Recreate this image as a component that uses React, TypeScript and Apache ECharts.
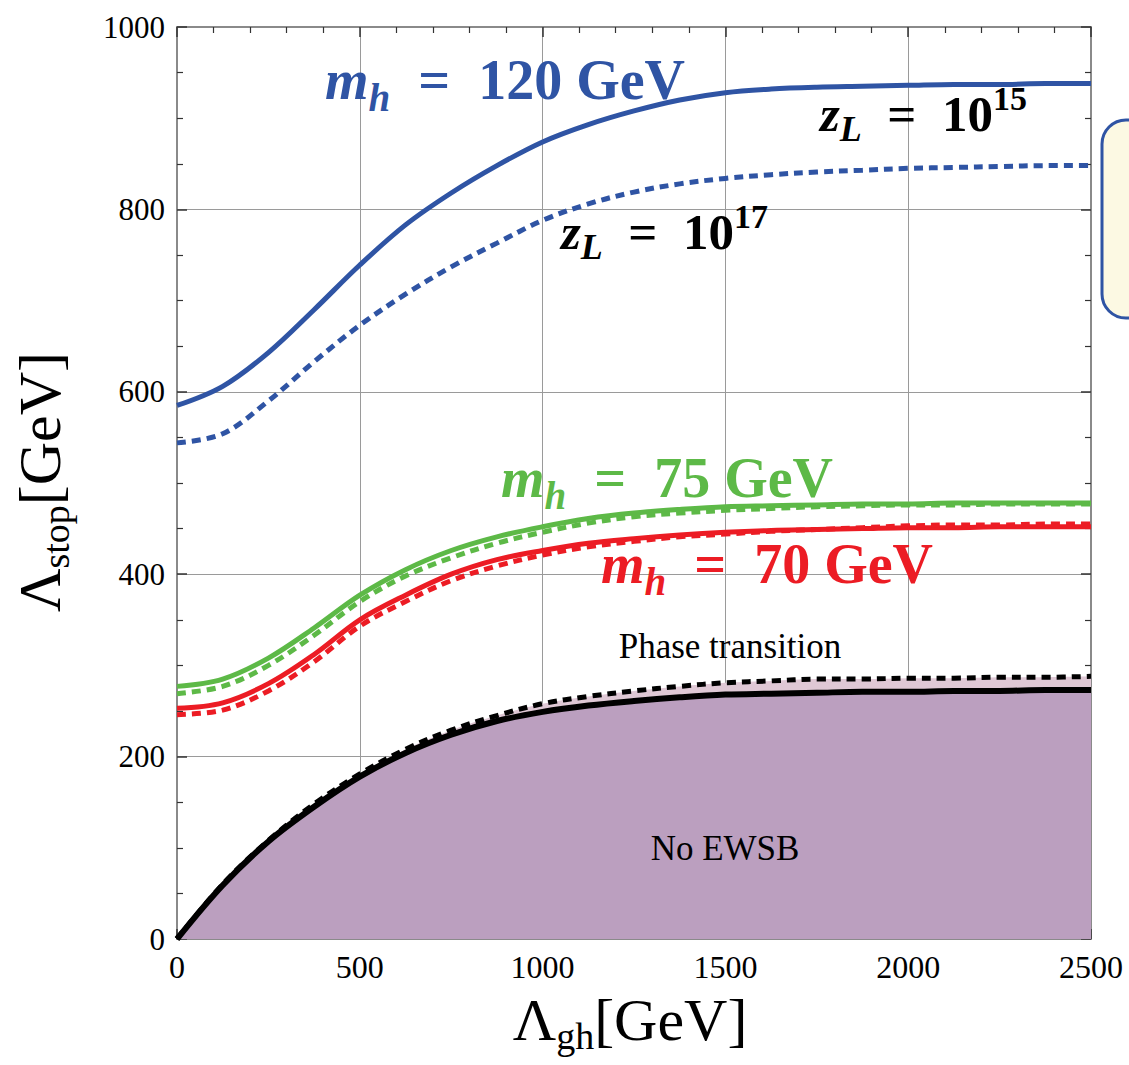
import React, { useEffect, useRef } from "react";
import * as echarts from "echarts";

// Λ_gh [GeV] sample points
const lambdaGh = [0, 125, 250, 375, 500, 625, 750, 875, 1000, 1125, 1250, 1375, 1500, 1625, 1750, 1875, 2000, 2125, 2250, 2375, 2500];

// Λ_stop [GeV] curves
const mh120z15 = [585, 606, 643, 690, 739, 783, 818, 848, 874, 893, 908, 920, 928, 932, 934, 935, 936, 937, 937, 938, 938];
const mh120z17 = [544, 554, 590, 633, 673, 707, 737, 763, 788, 806, 819, 828, 834, 838, 841, 843, 845, 846, 847, 848, 848];
const mh75z15 = [277, 285, 308, 341, 377, 405, 426, 441, 452, 461, 467, 471, 474, 475, 476, 477, 477, 478, 478, 478, 478];
const mh75z17 = [269, 277, 300, 333, 370, 398, 418, 434, 446, 456, 463, 467, 470, 472, 474, 475, 476, 476, 477, 477, 477];
const mh70z15 = [253, 259, 280, 312, 350, 377, 400, 416, 426, 434, 439, 443, 446, 448, 449, 450, 451, 451, 452, 452, 452];
const mh70z17 = [246, 251, 272, 304, 343, 370, 393, 409, 421, 430, 436, 441, 444, 447, 449, 451, 453, 454, 454, 455, 455];
const ewsbZ15 = [0, 59, 107, 145, 178, 204, 224, 239, 249, 256, 261, 265, 268, 269, 270, 271, 271, 272, 272, 273, 273];
const ewsbZ17 = [0, 60, 108, 148, 181, 208, 229, 245, 258, 266, 272, 277, 281, 283, 285, 285, 286, 286, 287, 287, 288];

const xTicks = [0, 500, 1000, 1500, 2000, 2500];
const yTicks = [0, 200, 400, 600, 800, 1000];

const BLUE = "#2F54A4";
const GREEN = "#5DB947";
const RED = "#EC1C24";

const pts = (ys: number[]) => lambdaGh.map((x, i) => [x, ys[i]]);

const GRID = { left: 177, top: 27, width: 914, height: 912 };

function lineSeries(name: string, ys: number[], color: string, dashed: boolean, width = 5, extra: any = {}) {
  return {
    name,
    type: "line",
    data: pts(ys),
    showSymbol: false,
    smooth: 0.35,
    lineStyle: { color, width, type: dashed ? [9, 6] : "solid", cap: "butt" },
    z: 3,
    ...extra,
  };
}

const MATH_FONT = "Liberation Serif";

const mathRich = (size: number, color: string) => ({
  m: { fontFamily: MATH_FONT, fontStyle: "italic", fontWeight: "bold", fontSize: size, lineHeight: Math.round(size * 1.3), verticalAlign: "middle", fill: color },
  s: { fontFamily: MATH_FONT, fontStyle: "italic", fontWeight: "bold", fontSize: Math.round(size * 0.7), lineHeight: Math.round(size * 0.64), verticalAlign: "bottom", fill: color },
  n: { fontFamily: MATH_FONT, fontWeight: "bold", fontSize: size, lineHeight: Math.round(size * 1.3), verticalAlign: "middle", fill: color },
  p: { fontFamily: MATH_FONT, fontWeight: "bold", fontSize: Math.round(size * 0.66), lineHeight: Math.round(size * 0.58), verticalAlign: "top", fill: color },
});

export default function App() {
  const ref = useRef<HTMLDivElement>(null);
  useEffect(() => {
    if (!ref.current) return;
    const chart = echarts.init(ref.current, undefined, { renderer: "svg" });
    const axisCommon = {
      type: "value",
      axisLine: { show: true, onZero: false, lineStyle: { color: "#8a8a8a", width: 2 } },
      axisTick: { show: true, inside: true, length: 10, lineStyle: { color: "#333", width: 1.5 } },
      minorTick: { show: true, length: 6, lineStyle: { color: "#333", width: 1.2 } },
    };
    const option: any = {
      animation: false,
      backgroundColor: "#ffffff",
      grid: { ...GRID, containLabel: false },
      xAxis: [
        {
          ...axisCommon,
          min: 0, max: 2500, interval: 500,
          minorTick: { ...axisCommon.minorTick, splitNumber: 5 },
          axisLabel: {
            fontFamily: "Liberation Serif", fontSize: 32, color: "#000", margin: 12,
            formatter: (v: number) => (xTicks.includes(v) ? String(v) : ""),
          },
          splitLine: { show: true, lineStyle: { color: "#9a9a9a", width: 1 } },
        },
        {
          ...axisCommon,
          position: "top",
          min: 0, max: 2500, interval: 500,
          minorTick: { ...axisCommon.minorTick, splitNumber: 5 },
          axisLabel: { show: false },
          splitLine: { show: false },
        },
      ],
      yAxis: [
        {
          ...axisCommon,
          min: 0, max: 1000, interval: 200,
          minorTick: { ...axisCommon.minorTick, splitNumber: 4 },
          axisLabel: {
            fontFamily: "Liberation Serif", fontSize: 31, color: "#000", margin: 12,
            formatter: (v: number) => (yTicks.includes(v) ? String(v) : ""),
          },
          splitLine: { show: true, lineStyle: { color: "#9a9a9a", width: 1 } },
        },
        {
          ...axisCommon,
          position: "right",
          min: 0, max: 1000, interval: 200,
          minorTick: { ...axisCommon.minorTick, splitNumber: 4 },
          axisLabel: { show: false },
          splitLine: { show: false },
        },
      ],
      series: [
        lineSeries("No EWSB z_L=1e17", ewsbZ17, "#000", true, 5, { areaStyle: { color: "#DFC8D5", opacity: 1, origin: 0 }, z: 1 }),
        lineSeries("No EWSB z_L=1e15", ewsbZ15, "#000", false, 6, { areaStyle: { color: "#BB9FBF", opacity: 1, origin: 0 }, z: 2 }),
        lineSeries("m_h=120, z_L=1e15", mh120z15, BLUE, false),
        lineSeries("m_h=120, z_L=1e17", mh120z17, BLUE, true),
        lineSeries("m_h=75, z_L=1e15", mh75z15, GREEN, false),
        lineSeries("m_h=75, z_L=1e17", mh75z17, GREEN, true),
        lineSeries("m_h=70, z_L=1e15", mh70z15, RED, false),
        lineSeries("m_h=70, z_L=1e17", mh70z17, RED, true),
      ],
      graphic: [
        {
          type: "rect", z: 10,
          shape: { x: 1102, y: 120, width: 80, height: 198, r: 24 },
          style: { fill: "#FCF9E3", stroke: BLUE, lineWidth: 3 },
        },
        {
          type: "text", z: 10, x: 325, y: 80,
          style: { text: "{m|m}{s|h}{n|  =  120 GeV}", rich: mathRich(56, BLUE), align: "left", verticalAlign: "middle" },
        },
        {
          type: "text", z: 10, x: 501, y: 478,
          style: { text: "{m|m}{s|h}{n|  =  75 GeV}", rich: mathRich(56, GREEN), align: "left", verticalAlign: "middle" },
        },
        {
          type: "text", z: 10, x: 601, y: 564,
          style: { text: "{m|m}{s|h}{n|  =  70 GeV}", rich: mathRich(56, RED), align: "left", verticalAlign: "middle" },
        },
        {
          type: "text", z: 10, x: 820, y: 114,
          style: { text: "{m|z}{s|L}{n|  =  10}{p|15}", rich: mathRich(51, "#000"), align: "left", verticalAlign: "middle" },
        },
        {
          type: "text", z: 10, x: 561, y: 232,
          style: { text: "{m|z}{s|L}{n|  =  10}{p|17}", rich: mathRich(51, "#000"), align: "left", verticalAlign: "middle" },
        },
        {
          type: "text", z: 10, x: 730, y: 646,
          style: { text: "Phase transition", fontFamily: "Liberation Serif", fontSize: 35, fill: "#000", align: "center", verticalAlign: "middle" },
        },
        {
          type: "text", z: 10, x: 725, y: 848,
          style: { text: "No EWSB", fontFamily: "Liberation Serif", fontSize: 35, fill: "#000", align: "center", verticalAlign: "middle" },
        },
        {
          type: "text", z: 10, x: 630, y: 1020,
          style: {
            text: "{L|Λ}{s|gh}{L|[GeV]}",
            align: "center", verticalAlign: "middle",
            rich: {
              L: { fontFamily: "Liberation Serif", fontSize: 60, lineHeight: 70, verticalAlign: "middle", fill: "#000" },
              s: { fontFamily: "Liberation Serif", fontSize: 38, lineHeight: 36, verticalAlign: "bottom", fill: "#000" },
            },
          },
        },
        {
          type: "text", z: 10, x: 40, y: 482, rotation: Math.PI / 2,
          style: {
            text: "{L|Λ}{s|stop}{L|[GeV]}",
            align: "center", verticalAlign: "middle",
            rich: {
              L: { fontFamily: "Liberation Serif", fontSize: 60, lineHeight: 70, verticalAlign: "middle", fill: "#000" },
              s: { fontFamily: "Liberation Serif", fontSize: 38, lineHeight: 36, verticalAlign: "bottom", fill: "#000" },
            },
          },
        },
      ],
    };
    chart.setOption(option);
    return () => chart.dispose();
  }, []);
  return <div ref={ref} style={{ position: "absolute", left: 0, top: 0, width: 1129, height: 1065 }} />;
}
